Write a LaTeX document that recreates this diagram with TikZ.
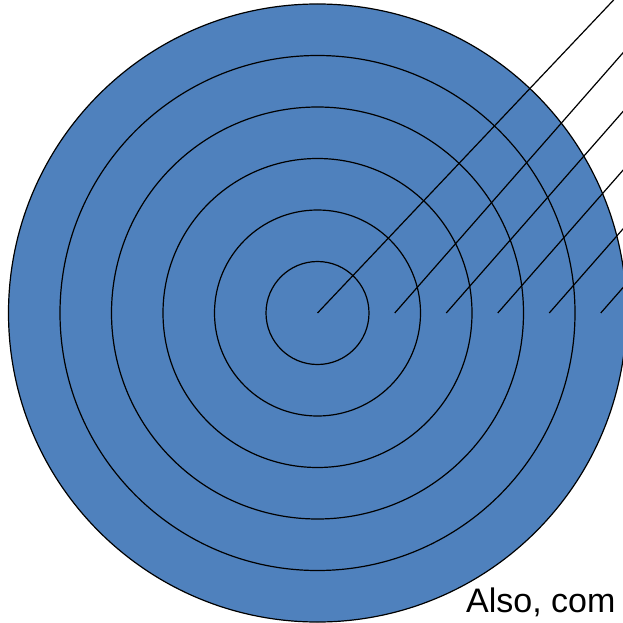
\documentclass[tikz,border=0pt]{standalone}
\usepackage{fontspec}
\setmainfont{Liberation Sans}
\definecolor{ringblue}{HTML}{4F81BD}
\tikzset{
  ringline/.style={draw=black,line width=1.2pt},
  leader/.style={draw=black,line width=1.2pt},
  caption/.style={inner sep=0pt,anchor=base west,font=\fontsize{34}{40}\selectfont}
}
\begin{document}
\begin{tikzpicture}[x=1pt,y=-1pt]
\useasboundingbox (0,0) rectangle (623,623);
\clip (0,0) rectangle (623,623);
\fill[white] (0,0) rectangle (623,623);
\coordinate (c) at (317.5,313);
\fill[ringblue] (c) circle[radius=309];
\foreach \k in {1,...,6}{
  \draw[ringline] (c) circle[radius=\k*51.5];
}
% leader lines
\coordinate (e1) at ({317.5+400/1.057},-87);
\draw[leader] (c) -- (e1);
\foreach \i/\r in {2/77.25,3/128.75,4/180.25,5/231.75,6/283.25}{
  \coordinate (s\i) at ({317.5+\r},313);
  \coordinate (e\i) at ({317.5+\r+400},{313-400*1.14});
  \draw[leader] (s\i) -- (e\i);
}
\node[caption] (txt) at (466,612) {Also, com};
\end{tikzpicture}
\end{document}
